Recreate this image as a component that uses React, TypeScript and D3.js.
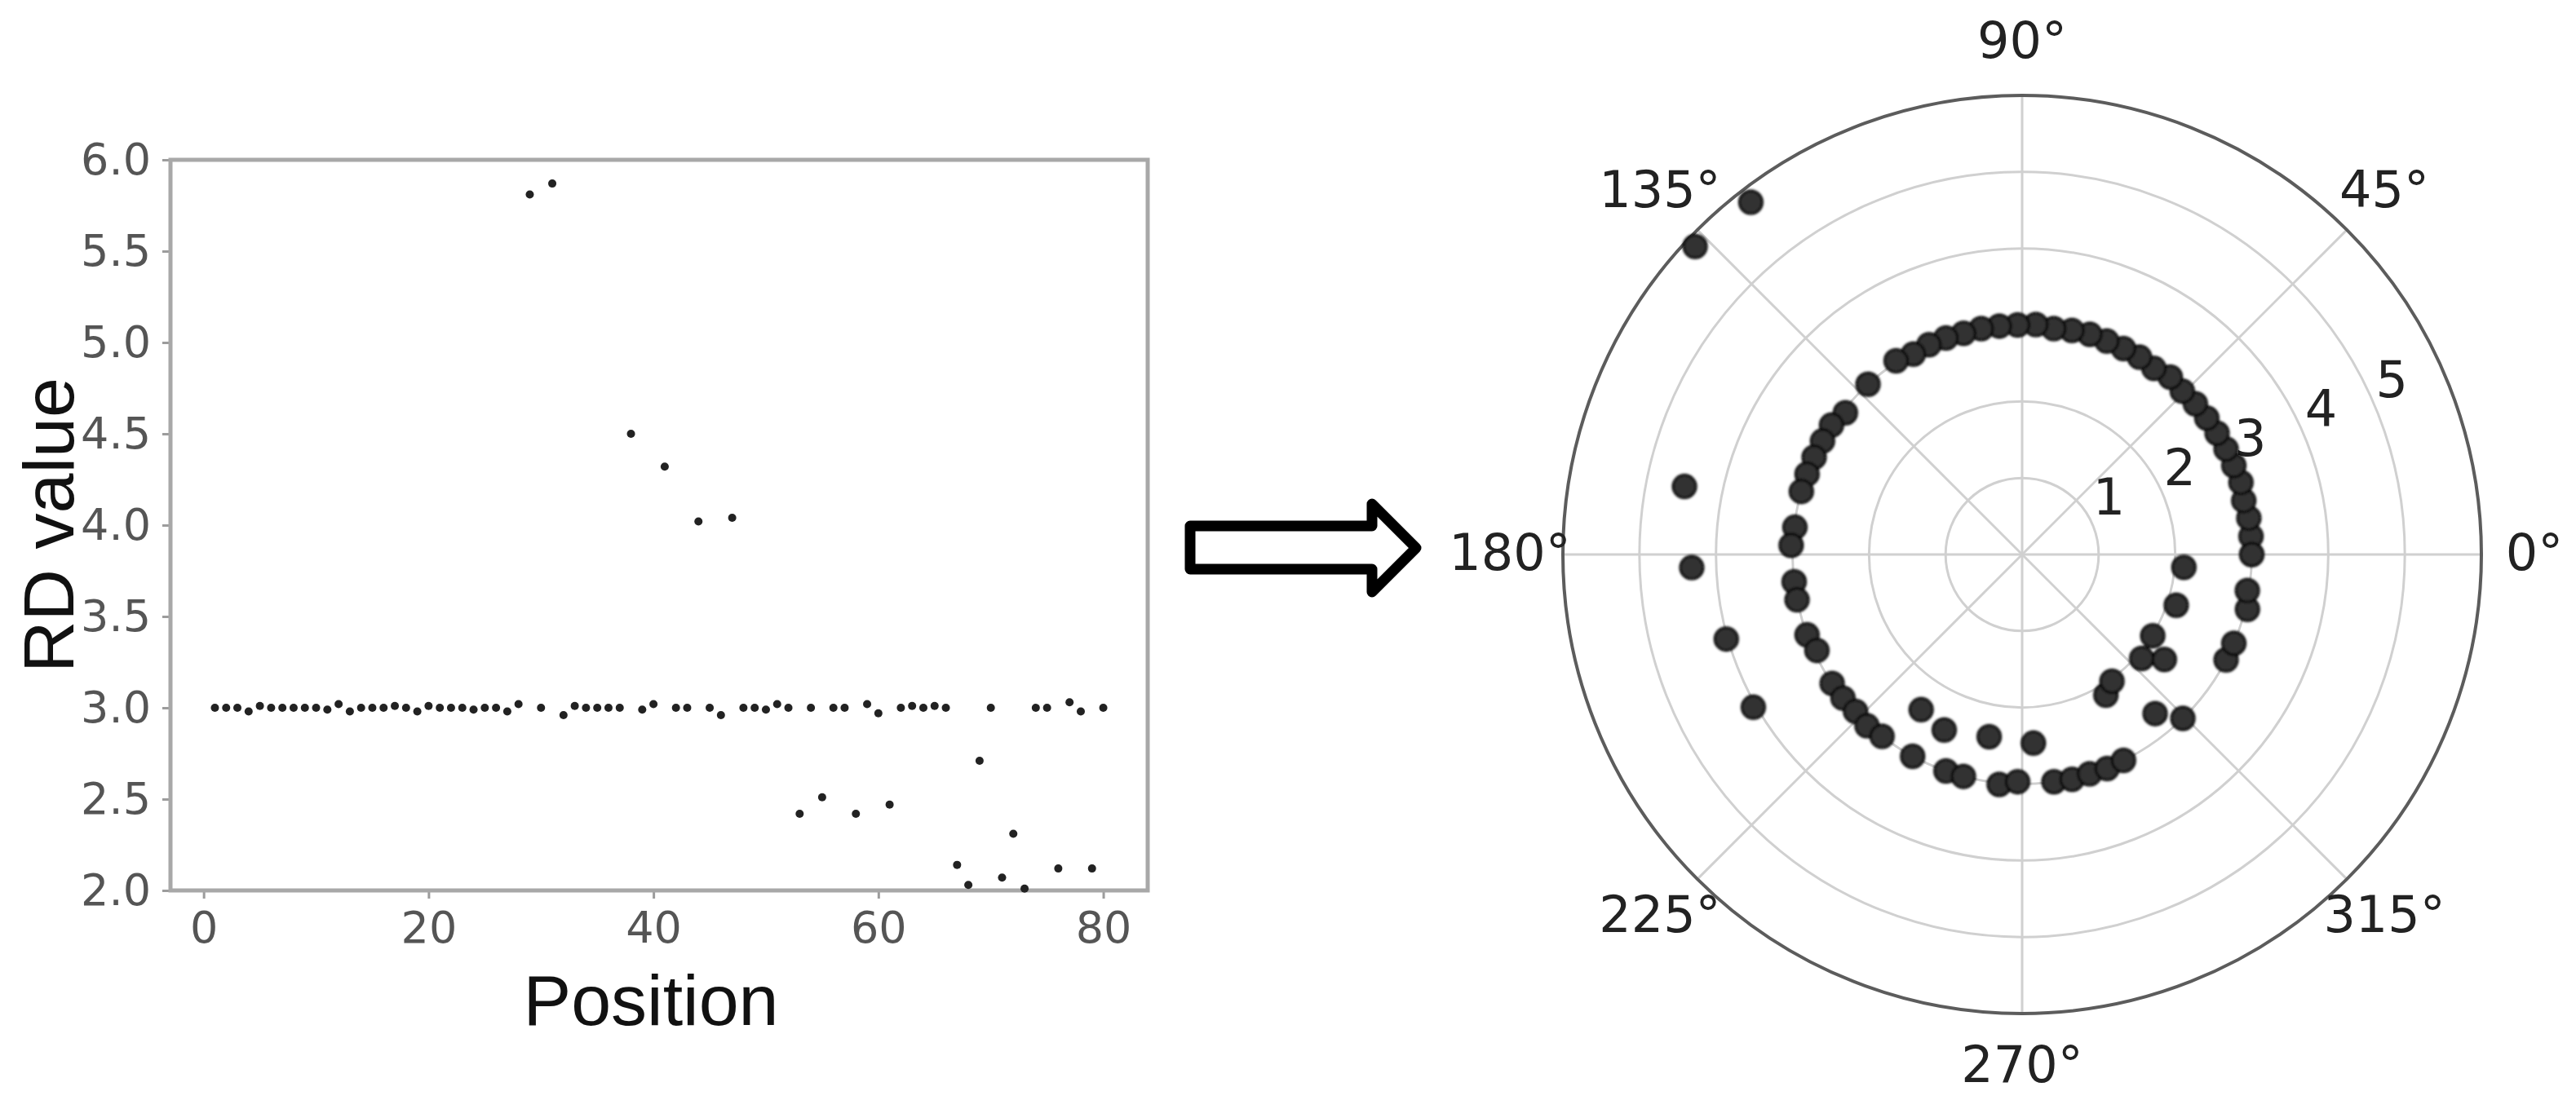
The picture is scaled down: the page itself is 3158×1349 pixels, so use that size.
import { useEffect, useRef } from "react";
import * as d3 from "d3";

// RD value at each position (1..80)
const rdValues = [
  3.0, 3.0, 3.0, 2.98, 3.01, 3.0, 3.0, 3.0, 3.0, 3.0,
  2.99, 3.02, 2.98, 3.0, 3.0, 3.0, 3.01, 3.0, 2.98, 3.01,
  3.0, 3.0, 3.0, 2.99, 3.0, 3.0, 2.98, 3.02, 5.81, 3.0,
  5.87, 2.96, 3.01, 3.0, 3.0, 3.0, 3.0, 4.5, 2.99, 3.02,
  4.32, 3.0, 3.0, 4.02, 3.0, 2.96, 4.04, 3.0, 3.0, 2.99,
  3.02, 3.0, 2.42, 3.0, 2.51, 3.0, 3.0, 2.42, 3.02, 2.97,
  2.47, 3.0, 3.01, 3.0, 3.01, 3.0, 2.14, 2.03, 2.71, 3.0,
  2.07, 2.31, 2.01, 3.0, 3.0, 2.12, 3.03, 2.98, 2.12, 3.0,
];

const xTicks = [0, 20, 40, 60, 80];
const yTicks = [2.0, 2.5, 3.0, 3.5, 4.0, 4.5, 5.0, 5.5, 6.0];
const ringTicks = [1, 2, 3, 4, 5];
const angleTicks = [0, 45, 90, 135, 180, 225, 270, 315];

const W = 3158;
const H = 1349;
const tickFont = "'DejaVu Sans', sans-serif";
const labelFont = "'Liberation Sans', Arial, sans-serif";

const App = () => {
  const svgRef = useRef(null);

  useEffect(() => {
    const svg = d3.select(svgRef.current);
    svg.selectAll("*").remove();

    // soft edges like the scanned figure
    svg
      .append("defs")
      .append("filter")
      .attr("id", "soft")
      .append("feGaussianBlur")
      .attr("stdDeviation", 1.4);

    // ---------- left scatter ----------
    const frame = { left: 209, right: 1407, top: 196, bottom: 1092 };

    const x = d3
      .scaleLinear()
      .domain([-2.95, 83.95])
      .range([frame.left, frame.right]);

    const y = d3
      .scaleLinear()
      .domain([2, 6])
      .range([frame.bottom, frame.top]);

    const styleAxis = (g) => {
      g.select(".domain").remove();
      g.selectAll(".tick line").attr("stroke", "#9c9c9c").attr("stroke-width", 3);
      g.selectAll(".tick text")
        .attr("fill", "#555")
        .style("font-family", tickFont)
        .style("font-size", "54px");
    };

    svg
      .append("g")
      .attr("transform", `translate(0,${frame.bottom})`)
      .call(
        d3.axisBottom(x).tickValues(xTicks).tickSize(10).tickPadding(16).tickSizeOuter(0)
      )
      .call(styleAxis);

    svg
      .append("g")
      .attr("transform", `translate(${frame.left},0)`)
      .call(
        d3
          .axisLeft(y)
          .tickValues(yTicks)
          .tickFormat(d3.format(".1f"))
          .tickSize(10)
          .tickPadding(14)
          .tickSizeOuter(0)
      )
      .call(styleAxis);

    svg
      .append("rect")
      .attr("x", frame.left)
      .attr("y", frame.top)
      .attr("width", frame.right - frame.left)
      .attr("height", frame.bottom - frame.top)
      .attr("fill", "none")
      .attr("stroke", "#a8a8a8")
      .attr("stroke-width", 5);

    svg
      .append("g")
      .selectAll("circle")
      .data(rdValues)
      .join("circle")
      .attr("cx", (d, i) => x(i + 1))
      .attr("cy", (d) => y(d))
      .attr("r", 5)
      .attr("fill", "#222");

    svg
      .append("text")
      .attr("transform", `translate(90,644) rotate(-90)`)
      .attr("text-anchor", "middle")
      .attr("fill", "#111")
      .style("font-family", labelFont)
      .style("font-size", "88px")
      .text("RD value");

    svg
      .append("text")
      .attr("x", 798)
      .attr("y", 1257)
      .attr("text-anchor", "middle")
      .attr("fill", "#111")
      .style("font-family", labelFont)
      .style("font-size", "88px")
      .text("Position");

    // ---------- arrow ----------
    svg
      .append("path")
      .attr("d", "M1459,645 L1682,645 L1682,618 L1736,672 L1682,726 L1682,698 L1459,698 Z")
      .attr("fill", "#fff")
      .attr("stroke", "#000")
      .attr("stroke-width", 13)
      .attr("stroke-linejoin", "round");

    // ---------- polar ----------
    const center = { x: 2479, y: 680 };
    const outerR = 563;
    const r = d3.scaleLinear().domain([0, 6]).range([0, outerR]);
    const step = (2 * Math.PI) / (rdValues.length - 1);
    const toRad = (deg) => Math.PI / 2 - (deg * Math.PI) / 180;

    const polar = svg
      .append("g")
      .attr("transform", `translate(${center.x},${center.y})`);

    polar
      .append("g")
      .selectAll("circle")
      .data(ringTicks)
      .join("circle")
      .attr("r", (d) => r(d))
      .attr("fill", "none")
      .attr("stroke", "#d0d0d0")
      .attr("stroke-width", 3);

    polar
      .append("g")
      .selectAll("line")
      .data(angleTicks)
      .join("line")
      .attr("x1", 0)
      .attr("y1", 0)
      .attr("x2", (d) => d3.pointRadial(toRad(d), outerR)[0])
      .attr("y2", (d) => d3.pointRadial(toRad(d), outerR)[1])
      .attr("stroke", "#d0d0d0")
      .attr("stroke-width", 3);

    polar
      .append("circle")
      .attr("r", outerR)
      .attr("fill", "none")
      .attr("stroke", "#5c5c5c")
      .attr("stroke-width", 4);

    polar
      .append("g")
      .selectAll("text")
      .data(angleTicks)
      .join("text")
      .attr("x", (d) => d3.pointRadial(toRad(d), 628)[0])
      .attr("y", (d) => d3.pointRadial(toRad(d), 628)[1] - 3)
      .attr("text-anchor", "middle")
      .attr("dominant-baseline", "central")
      .attr("fill", "#222")
      .style("font-family", tickFont)
      .style("font-size", "62px")
      .text((d) => `${d}°`);

    polar
      .append("g")
      .selectAll("text")
      .data(ringTicks)
      .join("text")
      .attr("x", (d) => d3.pointRadial(toRad(22.5), r(d))[0])
      .attr("y", (d) => d3.pointRadial(toRad(22.5), r(d))[1] - 13)
      .attr("text-anchor", "start")
      .attr("fill", "#222")
      .style("font-family", tickFont)
      .style("font-size", "62px")
      .text((d) => d);

    polar
      .append("g")
      .attr("filter", "url(#soft)")
      .selectAll("circle")
      .data(rdValues)
      .join("circle")
      .attr("cx", (d, i) => d3.pointRadial(Math.PI / 2 - i * step, r(d))[0])
      .attr("cy", (d, i) => d3.pointRadial(Math.PI / 2 - i * step, r(d))[1])
      .attr("r", 14)
      .attr("fill", "#333")
      .attr("stroke", "#000")
      .attr("stroke-width", 3);
  }, []);

  return (
    <svg
      ref={svgRef}
      width={W}
      height={H}
      style={{ position: "absolute", left: 0, top: 0, background: "#fff" }}
    />
  );
};

export default App;
